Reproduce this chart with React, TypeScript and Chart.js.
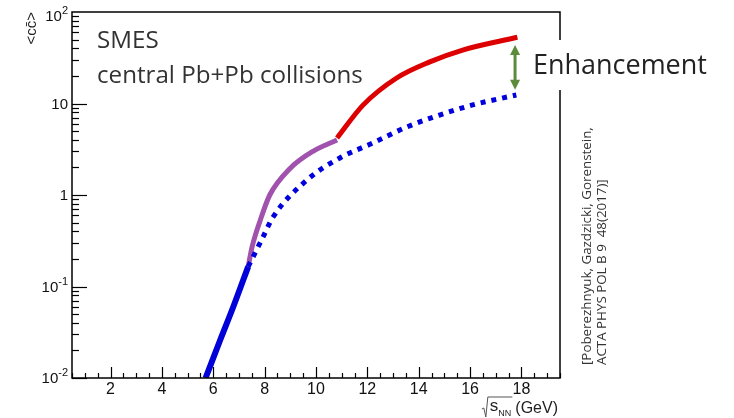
import React, { useEffect, useRef } from "react";
import { Chart, registerables } from "chart.js";

Chart.register(...registerables);

// ---- data ----
const blueSolidX = [5.7, 6.27, 6.78, 7.36];
const blueSolidY = [0.01, 0.026, 0.06, 0.165];

const purpleX = [7.36, 7.51, 7.83, 8.2, 8.99, 9.88, 10.82];
const purpleY = [0.165, 0.27, 0.53, 1.0, 1.95, 3.0, 4.0];

const redX = [10.82, 11.83, 13.14, 14.43, 15.71, 17.84];
const redY = [4.2, 9.6, 19.0, 28.5, 38.4, 53.0];

const dottedX = [7.36, 7.9, 8.33, 9.65, 10.93, 12.21, 13.53, 14.81, 16.1, 17.8];
const dottedY = [0.165, 0.33, 0.575, 1.46, 2.54, 3.7, 5.53, 7.48, 9.64, 12.4];

const arrowX = 17.75;
const arrowTop = 43.5;
const arrowBottom = 14.1;

const xMin = 0.5;
const xMax = 19.5;
const xMinorStep = 0.5;
const xMajorTicks = [2, 4, 6, 8, 10, 12, 14, 16, 18];
const xTickLabels = ["2", "4", "6", "8", "10", "12", "14", "16", "18"];

const yMin = 0.01;
const yMax = 100;
const yMajorTicks = [0.01, 0.1, 1, 10, 100];
const yTickBase = ["10", "10", "1", "10", "10"];
const yTickExp = ["-2", "-1", "", "", "2"];

const titleLine1 = "SMES";
const titleLine2 = "central Pb+Pb collisions";
const enhancementLabel = "Enhancement";
const citeLine1 = "[Poberezhnyuk, Gazdzicki, Gorenstein,";
const citeLine2 = "ACTA PHYS POL B 9  48(2017)]";
const yAxisTitle = "<cc\u0304>";

const zip = (xs: number[], ys: number[]) => xs.map((x, i) => ({ x, y: ys[i] }));

const AXIS_FONT = '"Liberation Sans", Arial, sans-serif';
const TEXT_FONT = '"Open Sans", "Noto Sans", sans-serif';

function fitSize(ctx: CanvasRenderingContext2D, text: string, family: string, width: number) {
  ctx.font = `100px ${family}`;
  const w = ctx.measureText(text).width;
  return (100 * width) / w;
}

const overlay = {
  id: "overlay",
  afterDraw(chart: any) {
    const ctx: CanvasRenderingContext2D = chart.ctx;
    const { left, right, top, bottom } = chart.chartArea;
    const xs = chart.scales.x;
    const ys = chart.scales.y;
    ctx.save();

    // frame
    ctx.strokeStyle = "#000";
    ctx.lineWidth = 1.5;
    ctx.strokeRect(left, top, right - left, bottom - top);

    // x ticks (inward)
    ctx.lineWidth = 1.2;
    for (let v = xMin; v <= xMax + 1e-9; v += xMinorStep) {
      const px = Math.round(xs.getPixelForValue(v)) + 0.5;
      const major = xMajorTicks.some((m) => Math.abs(m - v) < 1e-9);
      const len = major ? 11 : 5;
      ctx.beginPath();
      ctx.moveTo(px, bottom);
      ctx.lineTo(px, bottom - len);
      ctx.stroke();
    }
    // y ticks (inward)
    for (let d = -2; d <= 1; d++) {
      for (let k = 1; k <= 9; k++) {
        const v = k * Math.pow(10, d);
        const py = Math.round(ys.getPixelForValue(v)) + 0.5;
        const len = k === 1 ? 15 : 7;
        ctx.beginPath();
        ctx.moveTo(left, py);
        ctx.lineTo(left + len, py);
        ctx.stroke();
      }
    }

    // x tick labels
    ctx.fillStyle = "#111";
    ctx.font = `16px ${AXIS_FONT}`;
    ctx.textAlign = "center";
    ctx.textBaseline = "middle";
    xMajorTicks.forEach((v, i) => {
      ctx.fillText(xTickLabels[i], xs.getPixelForValue(v), bottom + 12);
    });

    // y tick labels with superscripts
    yMajorTicks.forEach((v, i) => {
      let py = ys.getPixelForValue(v);
      if (py < top + 4) py = top + 4;
      const base = yTickBase[i];
      const exp = yTickExp[i];
      ctx.font = `11px ${AXIS_FONT}`;
      const ew = exp ? ctx.measureText(exp).width : 0;
      ctx.font = `15px ${AXIS_FONT}`;
      const bw = ctx.measureText(base).width;
      const rightEdge = left - 4;
      ctx.textAlign = "left";
      ctx.textBaseline = "middle";
      ctx.fillText(base, rightEdge - ew - bw, py + 1);
      if (exp) {
        ctx.font = `11px ${AXIS_FONT}`;
        ctx.fillText(exp, rightEdge - ew, py - 5);
      }
    });

    // y axis title (rotated)
    ctx.save();
    ctx.translate(32, top);
    ctx.rotate(-Math.PI / 2);
    ctx.font = `15px ${AXIS_FONT}`;
    ctx.textAlign = "right";
    ctx.textBaseline = "middle";
    ctx.fillStyle = "#222";
    ctx.fillText(yAxisTitle, 0, 0);
    ctx.restore();

    // x axis title: sqrt(s_NN) (GeV)
    ctx.fillStyle = "#222";
    ctx.strokeStyle = "#555";
    ctx.lineWidth = 1;
    const gx = right - 2;
    ctx.font = `16px ${AXIS_FONT}`;
    ctx.textAlign = "right";
    ctx.textBaseline = "alphabetic";
    ctx.fillText("(GeV)", gx, bottom + 35);
    const gw = ctx.measureText("(GeV)").width;
    ctx.font = `9px ${AXIS_FONT}`;
    ctx.textAlign = "left";
    const nnx = gx - gw - 4 - ctx.measureText("NN").width;
    ctx.fillText("NN", nnx, bottom + 38);
    ctx.font = `17px ${AXIS_FONT}`;
    const sw = ctx.measureText("s").width;
    const sx = nnx - sw;
    ctx.fillText("s", sx, bottom + 33);
    ctx.beginPath();
    ctx.moveTo(sx - 8, bottom + 31);
    ctx.lineTo(sx - 6, bottom + 30);
    ctx.lineTo(sx - 4, bottom + 39);
    ctx.lineTo(sx - 2, bottom + 19);
    ctx.lineTo(nnx + 14, bottom + 19);
    ctx.stroke();

    // arrow (Enhancement)
    const ax = xs.getPixelForValue(arrowX);
    const at = ys.getPixelForValue(arrowTop);
    const ab = ys.getPixelForValue(arrowBottom);
    ctx.strokeStyle = "#5b8b3b";
    ctx.fillStyle = "#5b8b3b";
    ctx.lineWidth = 3;
    ctx.beginPath();
    ctx.moveTo(ax, at + 8);
    ctx.lineTo(ax, ab - 8);
    ctx.stroke();
    ctx.beginPath();
    ctx.moveTo(ax, at);
    ctx.lineTo(ax - 5, at + 10);
    ctx.lineTo(ax + 5, at + 10);
    ctx.closePath();
    ctx.fill();
    ctx.beginPath();
    ctx.moveTo(ax, ab);
    ctx.lineTo(ax - 5, ab - 10);
    ctx.lineTo(ax + 5, ab - 10);
    ctx.closePath();
    ctx.fill();

    // Enhancement label with white background
    ctx.fillStyle = "#fff";
    ctx.fillRect(528, 40, 186, 50);
    ctx.fillStyle = "#222";
    const es = fitSize(ctx, enhancementLabel, TEXT_FONT, 174);
    ctx.font = `${es}px ${TEXT_FONT}`;
    ctx.textAlign = "left";
    ctx.textBaseline = "alphabetic";
    ctx.fillText(enhancementLabel, 533, 74);

    // SMES text
    ctx.fillStyle = "#333";
    const ts = fitSize(ctx, titleLine2, TEXT_FONT, 266);
    ctx.font = `${ts}px ${TEXT_FONT}`;
    ctx.fillText(titleLine1, 97, 48);
    ctx.fillText(titleLine2, 97, 83);

    // citation (rotated)
    ctx.save();
    ctx.fillStyle = "#333";
    const cs = fitSize(ctx, citeLine1, TEXT_FONT, 238);
    ctx.font = `${cs}px ${TEXT_FONT}`;
    ctx.textAlign = "left";
    ctx.textBaseline = "middle";
    ctx.translate(587, 365);
    ctx.rotate(-Math.PI / 2);
    ctx.fillText(citeLine1, 0, 0);
    ctx.fillText(citeLine2, 0, 15);
    ctx.restore();

    ctx.restore();
  },
};

export default function App() {
  const ref = useRef<HTMLCanvasElement | null>(null);
  useEffect(() => {
    if (!ref.current) return;
    const common = {
      fill: false,
      pointRadius: 0,
      tension: 0.4,
      cubicInterpolationMode: "monotone" as const,
      clip: 0,
    };
    const chart = new Chart(ref.current, {
      type: "line",
      data: {
        datasets: [
          { ...common, label: "dotted", data: zip(dottedX, dottedY), borderColor: "#0000dd", borderWidth: 5, borderDash: [5, 6], borderCapStyle: "butt" },
          { ...common, label: "blue", data: zip(blueSolidX, blueSolidY), borderColor: "#0000d8", borderWidth: 6 },
          { ...common, label: "purple", data: zip(purpleX, purpleY), borderColor: "#a052ad", borderWidth: 5 },
          { ...common, label: "red", data: zip(redX, redY), borderColor: "#dd0000", borderWidth: 5 },
        ],
      },
      options: {
        responsive: false,
        animation: false,
        devicePixelRatio: 1,
        layout: { padding: { left: 72, top: 12, right: 174, bottom: 40 } },
        plugins: { legend: { display: false }, tooltip: { enabled: false } },
        scales: {
          x: { type: "linear", min: xMin, max: xMax, display: false },
          y: { type: "logarithmic", min: yMin, max: yMax, display: false },
        },
      },
      plugins: [overlay],
    } as any);
    return () => chart.destroy();
  }, []);
  return (
    <div style={{ position: "fixed", left: 0, top: 0, width: 734, height: 418, background: "#fff" }}>
      <canvas ref={ref} width={734} height={418} />
    </div>
  );
}
